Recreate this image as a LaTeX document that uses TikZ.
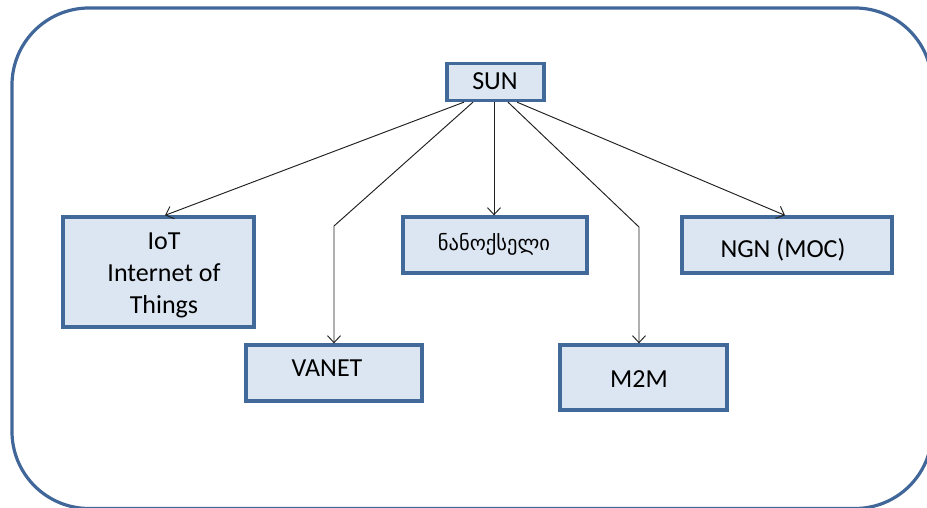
\documentclass[tikz,border=0pt]{standalone}
\usepackage{fontspec}
\setmainfont{Carlito}
\newfontfamily\geofont[Script=Georgian]{DejaVu Sans}
\usetikzlibrary{arrows.meta}
\definecolor{boxfill}{HTML}{DCE6F2}
\definecolor{boxline}{HTML}{41699A}
\definecolor{frameline}{HTML}{41679A}
\definecolor{arrowline}{HTML}{202020}
\begin{document}
\begin{tikzpicture}[x=1pt,y=-1pt,
  topic/.style={draw=boxline,line width=3.3pt,fill=boxfill,inner sep=0pt},
  label/.style={font=\fontsize{26}{32}\selectfont,text=black},
  link/.style={draw=arrowline,line width=0.95pt,
    -{Straight Barb[length=7pt,width=13pt,line width=0.95pt]}},
  frame/.style={draw=frameline,line width=3.2pt,rounded corners=77pt}]
\useasboundingbox (0,0) rectangle (927,508);
% outer frame
\draw[frame] (12,8) rectangle (932,508.5);
% boxes and their captions
\node[topic,minimum width=97pt,minimum height=37pt] (sun) at (495.5,82) {};
\node[label] (suntxt) at (495,81) {SUN};
\node[topic,minimum width=191pt,minimum height=110pt] (iot) at (158.5,272) {};
\node[label,align=center] (iottxt) at (164,275) {IoT\\Internet of\\Things};
\node[topic,minimum width=176pt,minimum height=56pt] (vanet) at (334,373) {};
\node[label] (vanettxt) at (327,368) {VANET};
\node[topic,minimum width=184pt,minimum height=56pt] (nano) at (495,245) {};
\node[font=\geofont\fontsize{20.5}{25}\selectfont] (nanotxt) at (494,244) {ნანოქსელი};
\node[topic,minimum width=167pt,minimum height=65pt] (m2m) at (643.5,377.5) {};
\node[label] (m2mtxt) at (639,379) {M2M};
\node[topic,minimum width=210pt,minimum height=56pt] (ngn) at (787,245) {};
\node[label] (ngntxt) at (783,250) {NGN (MOC)};
% bend points of the two elbow connectors
\coordinate (bendv) at (334,226);
\coordinate (bendm) at (639,227);
% connectors from SUN
\draw[link] ([xshift=-31.5pt]sun.south) -- ([xshift=6.5pt]iot.north);
\draw[link] ([xshift=-22.5pt]sun.south) -- (bendv) -- (vanet.north);
\draw[link] ([xshift=-1.5pt]sun.south) -- ([xshift=-1pt]nano.north);
\draw[link] ([xshift=12.5pt]sun.south) -- (bendm) -- (bendm |- m2m.north);
\draw[link] ([xshift=21.5pt]sun.south) -- ([xshift=-2pt]ngn.north);
\end{tikzpicture}
\end{document}
